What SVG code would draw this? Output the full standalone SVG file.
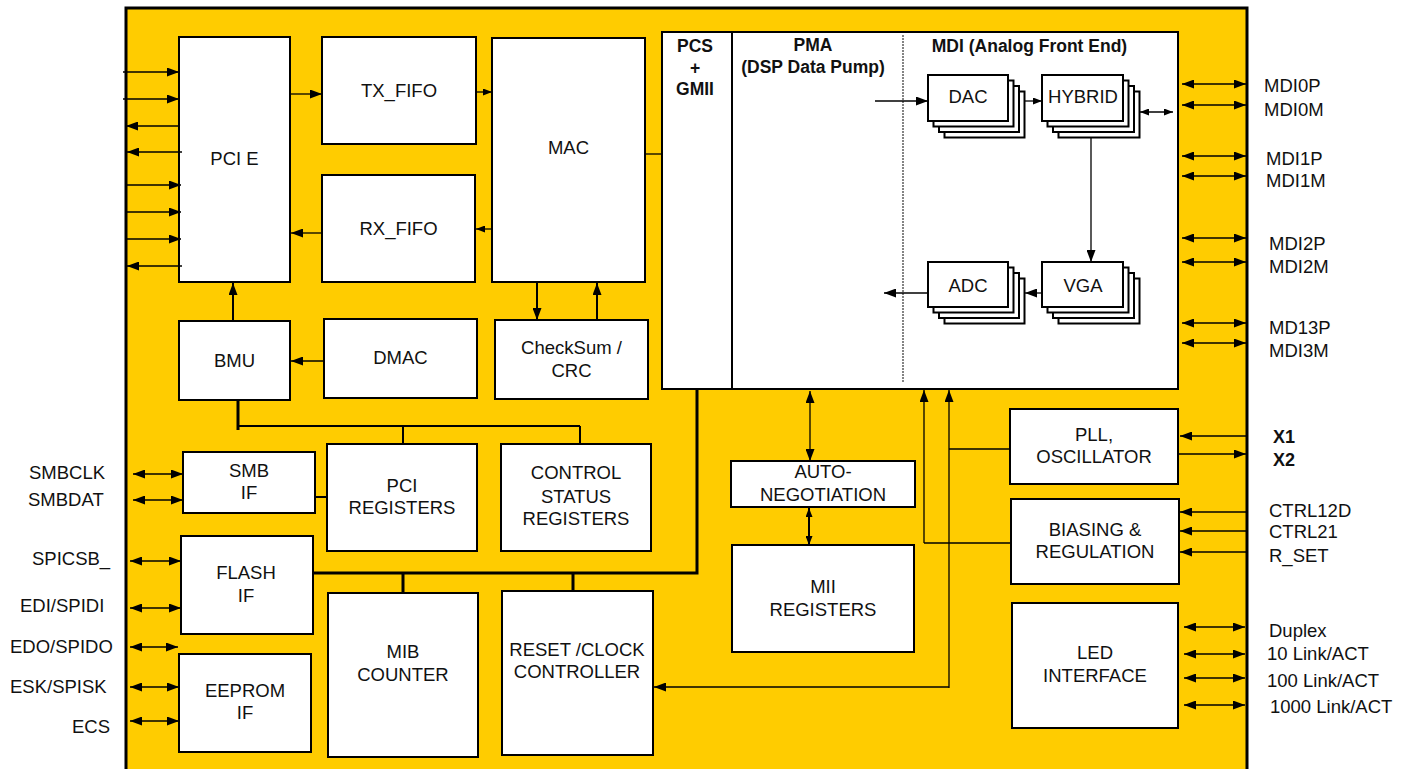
<svg xmlns="http://www.w3.org/2000/svg" width="1408" height="769" viewBox="0 0 1408 769">
<style>
.box{fill:#fff;stroke:#000;stroke-width:2}
.t{font-family:"Liberation Sans",Arial,sans-serif;font-size:18.5px;text-anchor:middle;fill:#111}
.b{font-family:"Liberation Sans",Arial,sans-serif;font-size:17.5px;font-weight:bold;text-anchor:middle;fill:#111}
.l{font-family:"Liberation Sans",Arial,sans-serif;font-size:18.5px;fill:#111}
.lb{font-family:"Liberation Sans",Arial,sans-serif;font-size:18px;font-weight:bold;fill:#111}
.c{fill:none;stroke:#000;stroke-width:1.3}
.k{fill:none;stroke:#000;stroke-width:3}
.m{fill:none;stroke:#000;stroke-width:2}
.d{fill:none;stroke:#000;stroke-width:1.3;marker-start:url(#a);marker-end:url(#a)}
.e{fill:none;stroke:#000;stroke-width:1.3;marker-end:url(#a)}
</style>
<defs>
<marker id="a" viewBox="0 0 12 9" refX="12" refY="4.5" markerWidth="12" markerHeight="9" markerUnits="userSpaceOnUse" orient="auto-start-reverse"><path d="M0,0 L12,4.5 L0,9 z" fill="#000"/></marker>
<marker id="s" viewBox="0 0 9 7" refX="9" refY="3.5" markerWidth="9" markerHeight="7" markerUnits="userSpaceOnUse" orient="auto-start-reverse"><path d="M0,0 L9,3.5 L0,7 z" fill="#000"/></marker>
</defs>
<rect x="0" y="0" width="1408" height="769" fill="#fff"/>
<rect id="chip" x="126" y="8" width="1121" height="800" fill="#FFCC00" stroke="#000" stroke-width="3"/>

<g id="pcie"><rect class="box" x="179" y="37" width="111" height="245"/><text class="t" x="234.5" y="165">PCI E</text></g>
<g id="txfifo"><rect class="box" x="322" y="37" width="154" height="107"/><text class="t" x="399" y="97">TX_FIFO</text></g>
<g id="rxfifo"><rect class="box" x="322" y="175" width="153" height="107"/><text class="t" x="398.5" y="235">RX_FIFO</text></g>
<g id="mac"><rect class="box" x="492" y="38" width="153" height="244"/><text class="t" x="568.5" y="154">MAC</text></g>
<g id="bmu"><rect class="box" x="179" y="321" width="111" height="79"/><text class="t" x="234.5" y="367">BMU</text></g>
<g id="dmac"><rect class="box" x="324" y="319" width="153" height="79"/><text class="t" x="400.5" y="364">DMAC</text></g>
<g id="checksum"><rect class="box" x="495" y="320" width="153" height="79"/><text class="t" x="571.5" y="354">CheckSum /</text><text class="t" x="571.5" y="377">CRC</text></g>

<g id="phy">
<rect class="box" x="662" y="32" width="516" height="357"/>
<line x1="732" y1="32" x2="732" y2="389" stroke="#000" stroke-width="2"/>
<line x1="903" y1="35" x2="903" y2="382" stroke="#333" stroke-width="1.2" stroke-dasharray="2 1"/>
<text class="b" x="695" y="52">PCS</text>
<text class="b" x="695" y="74">+</text>
<text class="b" x="695" y="95">GMII</text>
<text class="b" x="813" y="51">PMA</text>
<text class="b" x="813" y="73">(DSP Data Pump)</text>
<text class="b" x="1029.5" y="52">MDI (Analog Front End)</text>
</g>
<g id="dac">
<rect class="box" x="944.5" y="91.5" width="80" height="46"/><rect class="box" x="939" y="86" width="80" height="46"/><rect class="box" x="933.5" y="80.5" width="80" height="46"/><rect class="box" x="928" y="75" width="80" height="46"/>
<text class="t" x="968" y="103">DAC</text></g>
<g id="hybrid">
<rect class="box" x="1058.5" y="91.5" width="81" height="46"/><rect class="box" x="1053" y="86" width="81" height="46"/><rect class="box" x="1047.5" y="80.5" width="81" height="46"/><rect class="box" x="1042" y="75" width="81" height="46"/>
<text class="t" x="1083" y="103">HYBRID</text></g>
<g id="vga">
<rect class="box" x="1058.5" y="278.5" width="81" height="45"/><rect class="box" x="1053" y="273" width="81" height="45"/><rect class="box" x="1047.5" y="267.5" width="81" height="45"/><rect class="box" x="1042" y="262" width="81" height="45"/>
<text class="t" x="1083" y="292">VGA</text></g>
<g id="adc">
<rect class="box" x="944.5" y="278.5" width="80" height="45"/><rect class="box" x="939" y="273" width="80" height="45"/><rect class="box" x="933.5" y="267.5" width="80" height="45"/><rect class="box" x="928" y="262" width="80" height="45"/>
<text class="t" x="968" y="292">ADC</text></g>

<g id="smbif"><rect class="box" x="183" y="452" width="132" height="61"/><text class="t" x="249" y="477">SMB</text><text class="t" x="249" y="499">IF</text></g>
<g id="flashif"><rect class="box" x="181" y="536" width="132" height="98"/><text class="t" x="246" y="579">FLASH</text><text class="t" x="246" y="602">IF</text></g>
<g id="eepromif"><rect class="box" x="179" y="654" width="132" height="98"/><text class="t" x="245" y="697">EEPROM</text><text class="t" x="245" y="719">IF</text></g>
<g id="pcireg"><rect class="box" x="327" y="444" width="150" height="107"/><text class="t" x="402" y="492">PCI</text><text class="t" x="402" y="514">REGISTERS</text></g>
<g id="csr"><rect class="box" x="501" y="444" width="150" height="107"/><text class="t" x="576" y="479">CONTROL</text><text class="t" x="576" y="503">STATUS</text><text class="t" x="576" y="525">REGISTERS</text></g>
<g id="mib"><rect class="box" x="328" y="593" width="150" height="164"/><text class="t" x="403" y="658">MIB</text><text class="t" x="403" y="681">COUNTER</text></g>
<g id="reset"><rect class="box" x="502" y="591" width="151" height="164"/><text class="t" x="577" y="656">RESET /CLOCK</text><text class="t" x="577" y="678">CONTROLLER</text></g>
<g id="autoneg"><rect class="box" x="731" y="461" width="184" height="46"/><text class="t" x="823" y="478">AUTO-</text><text class="t" x="823" y="501">NEGOTIATION</text></g>
<g id="miireg"><rect class="box" x="732" y="545" width="182" height="107"/><text class="t" x="823" y="593">MII</text><text class="t" x="823" y="616">REGISTERS</text></g>
<g id="pll"><rect class="box" x="1010" y="409" width="168" height="75"/><text class="t" x="1094" y="441">PLL,</text><text class="t" x="1094" y="463">OSCILLATOR</text></g>
<g id="bias"><rect class="box" x="1011" y="499" width="168" height="85"/><text class="t" x="1095" y="536">BIASING &amp;</text><text class="t" x="1095" y="558">REGULATION</text></g>
<g id="led"><rect class="box" x="1012" y="603" width="166" height="125"/><text class="t" x="1095" y="659">LED</text><text class="t" x="1095" y="682">INTERFACE</text></g>

<g id="connectors">
<path class="e" d="M123,72 H179"/>
<path class="e" d="M123,99 H179"/>
<path class="e" d="M179,126 H126"/>
<path class="e" d="M182,152 H127"/>
<path class="e" d="M125,185 H181"/>
<path class="e" d="M125,212 H181"/>
<path class="e" d="M125,239 H181"/>
<path class="e" d="M182,266 H127"/>
<path class="e" d="M291,94 H322"/>
<path class="c" marker-end="url(#s)" d="M476,92 H492"/>
<path class="e" d="M322,233 H291"/>
<path class="c" marker-end="url(#s)" d="M492,229 H476"/>
<path class="c" d="M645,154 H663"/>
<path class="m" marker-end="url(#a)" d="M233,321 V283"/>
<path class="e" d="M324,361 H291"/>
<path class="m" marker-end="url(#a)" d="M537,282 V320"/>
<path class="m" marker-end="url(#a)" d="M597,320 V283"/>
<path class="k" d="M238,400 V430"/>
<path class="m" d="M238,426 H580 M403,426 V444 M580,426 V444"/>
<path class="k" d="M697,389 V573 H313 M403,573 V593 M573,573 V591"/>
<path class="m" d="M315,497 H327"/>
<path class="c" d="M949,449 H1010 M924,543 H1011"/>
<path class="e" d="M924,543 V390"/>
<path class="e" d="M949,688 V390"/>
<path class="e" d="M949,687 H654"/>
<path class="d" d="M810,391 V461"/>
<path class="m" marker-start="url(#s)" marker-end="url(#s)" d="M809,508 V545"/>
<path class="e" d="M875,101 H928"/>
<path class="c" marker-end="url(#s)" d="M1025,101 H1042"/>
<path class="c" marker-start="url(#s)" marker-end="url(#s)" d="M1140,112 H1173"/>
<path class="e" d="M1091,138 V262"/>
<path class="e" d="M1042,293 H1025"/>
<path class="e" d="M928,293 H884"/>
<path class="d" d="M1182,84 H1246"/>
<path class="d" d="M1182,105 H1246"/>
<path class="d" d="M1182,156 H1246"/>
<path class="d" d="M1182,176 H1246"/>
<path class="d" d="M1182,238 H1246"/>
<path class="d" d="M1182,262 H1246"/>
<path class="d" d="M1182,323 H1246"/>
<path class="d" d="M1182,343 H1246"/>
<path class="e" d="M1246,436 H1180"/>
<path class="e" d="M1179,454 H1246"/>
<path class="e" d="M1246,512 H1180"/>
<path class="e" d="M1246,531 H1180"/>
<path class="e" d="M1246,552 H1180"/>
<path class="d" d="M1184,627 H1245"/>
<path class="d" d="M1184,654 H1245"/>
<path class="d" d="M1184,678 H1245"/>
<path class="d" d="M1184,705 H1245"/>
<path class="d" d="M133,474 H183"/>
<path class="d" d="M133,500 H183"/>
<path class="d" d="M130,561 H181"/>
<path class="d" d="M130,608 H181"/>
<path class="d" d="M130,647 H178"/>
<path class="d" d="M130,687 H179"/>
<path class="d" d="M130,721 H179"/>
</g>

<g id="labels">
<text class="l" x="1264" y="92">MDI0P</text>
<text class="l" x="1264" y="116">MDI0M</text>
<text class="l" x="1266" y="165">MDI1P</text>
<text class="l" x="1266" y="187">MDI1M</text>
<text class="l" x="1269" y="250">MDI2P</text>
<text class="l" x="1269" y="273">MDI2M</text>
<text class="l" x="1269" y="334">MD13P</text>
<text class="l" x="1269" y="357">MDI3M</text>
<text class="lb" x="1273" y="443">X1</text>
<text class="lb" x="1273" y="466">X2</text>
<text class="l" x="1269" y="517">CTRL12D</text>
<text class="l" x="1269" y="538">CTRL21</text>
<text class="l" x="1269" y="562">R_SET</text>
<text class="l" x="1269" y="637">Duplex</text>
<text class="l" x="1267" y="660">10 Link/ACT</text>
<text class="l" x="1267" y="687">100 Link/ACT</text>
<text class="l" x="1270" y="713">1000 Link/ACT</text>
<text class="l" x="29" y="479">SMBCLK</text>
<text class="l" x="28" y="506">SMBDAT</text>
<text class="l" x="32" y="565">SPICSB_</text>
<text class="l" x="20" y="612">EDI/SPIDI</text>
<text class="l" x="10" y="653">EDO/SPIDO</text>
<text class="l" x="10" y="693">ESK/SPISK</text>
<text class="l" x="72" y="733">ECS</text>
</g>
</svg>
